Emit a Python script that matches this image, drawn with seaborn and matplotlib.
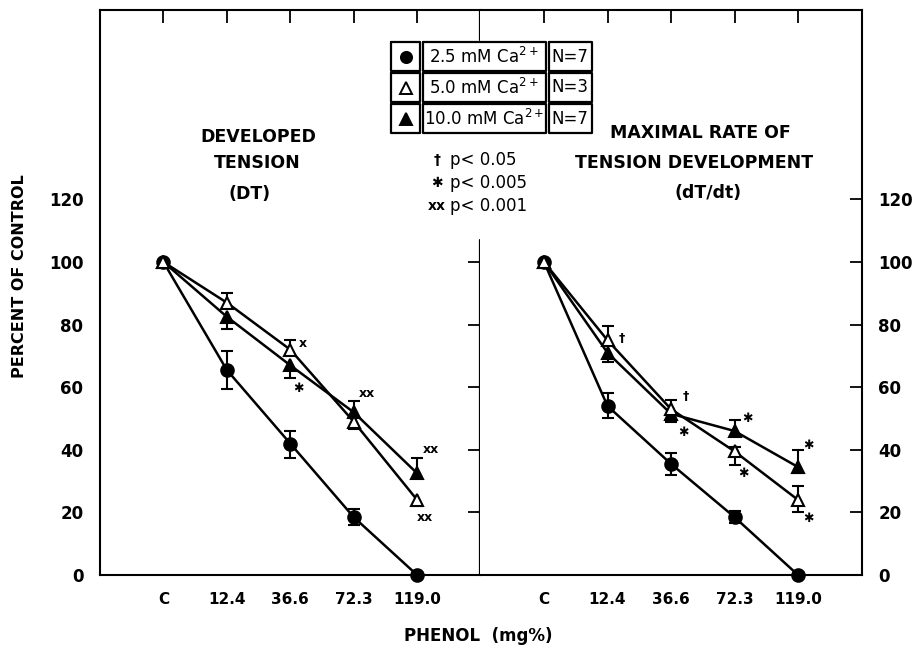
import numpy as np
import pandas as pd
import seaborn as sns
import matplotlib.pyplot as plt

W, H = 914, 650

# x categories (phenol, mg%)
doses = ["C", "12.4", "36.6", "72.3", "119.0"]
pos = np.arange(len(doses))

# legend rows
conc_labels = ["2.5 mM Ca$^{2+}$", "5.0 mM Ca$^{2+}$", "10.0 mM Ca$^{2+}$"]
n_labels = ["N=7", "N=3", "N=7"]

# Developed tension (DT), percent of control
dt_25 = [100, 65.5, 42, 18.5, 0]
dt_50 = [100, 87, 72, 49, 24]
dt_10 = [100, 82.5, 67, 52, 32.5]
dt_25_lo = [0, 6, 4.5, 2.5, 0]
dt_25_hi = [0, 6, 4, 2.5, 0]
dt_50_lo = [0, 0, 0, 2.5, 2]
dt_50_hi = [0, 3, 3, 0, 0]
dt_10_lo = [0, 4, 4, 0, 0]
dt_10_hi = [0, 0, 0, 3.5, 5]

# Maximal rate of tension development (dT/dt), percent of control
rt_25 = [100, 54, 35.5, 18.5, 0]
rt_50 = [100, 75, 53, 39.5, 24]
rt_10 = [100, 71, 51.5, 46, 34.5]
rt_25_lo = [0, 4, 3.5, 2, 0]
rt_25_hi = [0, 4, 3.5, 2, 0]
rt_50_lo = [0, 0, 0, 4.5, 4]
rt_50_hi = [0, 4.5, 3, 1.5, 4.5]
rt_10_lo = [0, 3, 2.5, 0, 2]
rt_10_hi = [0, 0, 0, 3.5, 5.5]

# significance marks
dt_sig = ["x", "✱", "xx", "xx", "xx"]
dt_sig_x = [2.2, 2.13, 3.21, 4.22, 4.13]
dt_sig_y = [74, 59.5, 58, 40, 18.5]
rt_sig = ["†", "†", "✱", "✱", "✱", "✱", "✱"]
rt_sig_x = [1.23, 2.23, 2.2, 3.2, 3.14, 4.17, 4.16]
rt_sig_y = [75.5, 57, 45.5, 50, 32.3, 41.5, 18.2]

sns.set_style("white")
plt.rcParams["font.family"] = ["DejaVu Sans"]
plt.rcParams["text.color"] = "black"
plt.rcParams["xtick.color"] = "black"
plt.rcParams["ytick.color"] = "black"
plt.rcParams["axes.labelcolor"] = "black"

fig = plt.figure(figsize=(W / 100, H / 100), dpi=100)
ax_l = fig.add_axes([100 / W, 75 / H, 380.5 / W, 565 / H])
ax_r = fig.add_axes([480.5 / W, 75 / H, 381 / W, 565 / H])

styles = [("o", "black"), ("^", "black"), ("^", "white")]


def draw_panel(ax, means, los, his):
    for (mk, face), vals, lo, hi in zip(styles, means, los, his):
        df = pd.DataFrame({"dose": pos, "pct": vals})
        sns.lineplot(data=df, x="dose", y="pct", ax=ax, color="black", lw=1.8,
                     marker=mk, markersize=9, markerfacecolor=face,
                     markeredgecolor="black", markeredgewidth=1.5,
                     clip_on=False, zorder=4)
        vals, lo, hi = np.array(vals), np.array(lo), np.array(hi)
        ax.errorbar(pos, vals, yerr=[lo, hi], fmt="none", ecolor="black",
                    elinewidth=1.5, capsize=0, zorder=3)
        cx = np.concatenate([pos[hi > 0], pos[lo > 0]])
        cy = np.concatenate([(vals + hi)[hi > 0], (vals - lo)[lo > 0]])
        ax.plot(cx, cy, ls="none", marker="_", ms=9, mew=1.5, color="black", zorder=3)


draw_panel(ax_l, [dt_25, dt_10, dt_50], [dt_25_lo, dt_10_lo, dt_50_lo], [dt_25_hi, dt_10_hi, dt_50_hi])
draw_panel(ax_r, [rt_25, rt_10, rt_50], [rt_25_lo, rt_10_lo, rt_50_lo], [rt_25_hi, rt_10_hi, rt_50_hi])

for ax, sx, sy, st in [(ax_l, dt_sig_x, dt_sig_y, dt_sig), (ax_r, rt_sig_x, rt_sig_y, rt_sig)]:
    for x, y, s in zip(sx, sy, st):
        ax.text(x, y, s, fontsize=9, fontweight="bold", ha="center", va="center")

for ax in (ax_l, ax_r):
    ax.set_xlim(-1, 5)
    ax.set_ylim(0, 180.5)
    ax.set_xlabel("")
    ax.set_ylabel("")
    for sp in ax.spines.values():
        sp.set_linewidth(1.5)
        sp.set_color("black")
    ax.tick_params(axis="x", direction="in", length=9, width=1.3, top=True,
                   labelsize=11, pad=12)
    ax.tick_params(axis="y", direction="in", length=9, width=1.3, labelsize=12)

ax_l.set_xticks(list(pos) + [5])
ax_l.set_xticklabels(doses + [""], fontweight="bold")
ax_r.set_xticks(pos)
ax_r.set_xticklabels(doses, fontweight="bold")

ax_l.spines["right"].set_visible(False)
ax_r.spines["left"].set_visible(False)
ax_l.set_yticks(range(0, 121, 20))
ax_l.tick_params(axis="y", pad=12)
ax_r.set_yticks(range(0, 121, 20))
ax_r.yaxis.tick_right()
ax_r.tick_params(axis="y", direction="in", length=9, width=1.3, pad=12, labelsize=12)
for lab in ax_l.get_yticklabels() + ax_r.get_yticklabels():
    lab.set_fontweight("bold")

# broken centre axis with cross ticks
ax_l.plot([5, 5], [0, 107], color="black", lw=1.6, clip_on=False)
ax_l.plot([5, 5], [171, 180.5], color="black", lw=1.6, clip_on=False)
ax_l.plot([5] * 5, range(20, 101, 20), ls="none", marker="_", ms=18, mew=1.3,
          color="black", clip_on=False)


def ftext(x, y, s, **kw):
    fig.text(x / W, 1 - y / H, s, **kw)


# panel titles
ftext(258, 137, "DEVELOPED", ha="center", va="center", fontsize=12.5, fontweight="bold")
ftext(257, 163, "TENSION", ha="center", va="center", fontsize=12.5, fontweight="bold")
ftext(250, 194, "(DT)", ha="center", va="center", fontsize=12.5, fontweight="bold")
ftext(700, 133, "MAXIMAL RATE OF", ha="center", va="center", fontsize=12.5, fontweight="bold")
ftext(694, 163, "TENSION DEVELOPMENT", ha="center", va="center", fontsize=12.5, fontweight="bold")
ftext(708, 193, "(dT/dt)", ha="center", va="center", fontsize=12.5, fontweight="bold")

# axis titles
ftext(20, 276, "PERCENT OF CONTROL", rotation=90, ha="center", va="center",
      fontsize=11.5, fontweight="bold")
ftext(478, 636, "PHENOL  (mg%)", ha="center", va="center", fontsize=12, fontweight="bold")

# p-value key
for y, sym, txt in [(160, "†", "p< 0.05"), (183, "✱", "p< 0.005"), (206, "xx", "p< 0.001")]:
    ftext(437, y, sym, ha="center", va="center", fontsize=10, fontweight="bold")
    ftext(450, y, txt, ha="left", va="center", fontsize=12)

# legend table
lax = fig.add_axes([390 / W, 1 - 133 / H, 203 / W, 93 / H])
lax.set_xlim(390, 593)
lax.set_ylim(133, 40)
lax.axis("off")
for r in range(3):
    y0, y1 = 41 + r * 31, 41 + (r + 1) * 31
    for x0, x1 in [(391, 420), (423, 546), (549, 592)]:
        lax.plot([x0, x1, x1, x0, x0], [y0 + 1, y0 + 1, y1 - 1, y1 - 1, y0 + 1],
                 color="black", lw=1.6, clip_on=False)
for r, ((mk, face), lab, n) in enumerate(zip([styles[0], styles[2], styles[1]], conc_labels, n_labels)):
    yc = 56.5 + r * 31
    lax.plot(405.5, yc, marker=mk, ms=8, mfc=face, mec="black", mew=1.4)
    lax.text(484, yc, lab, ha="center", va="center", fontsize=12)
    lax.text(570, yc, n, ha="center", va="center", fontsize=12)

fig.savefig("out.png", dpi=100)
